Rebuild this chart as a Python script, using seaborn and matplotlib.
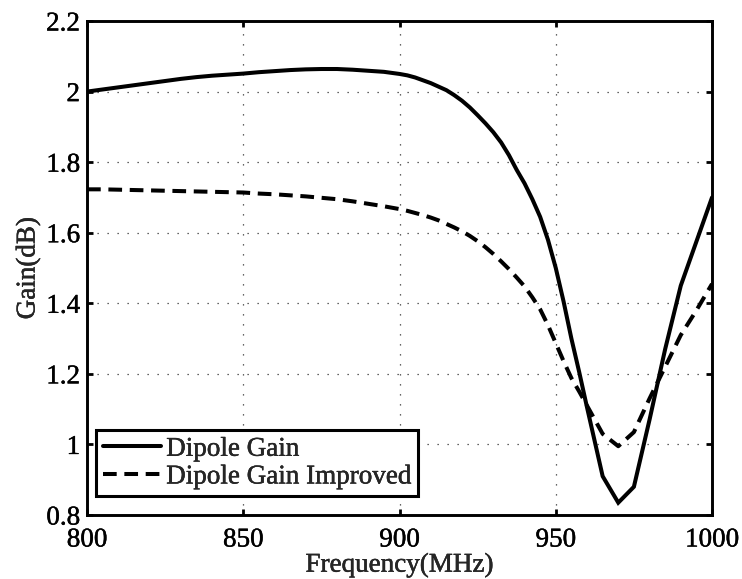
import numpy as np
import pandas as pd
import matplotlib
matplotlib.use("Agg")
import matplotlib.pyplot as plt
import matplotlib.patheffects as pe
from matplotlib.lines import Line2D
import seaborn as sns

# Frequency sweep (MHz), finer steps across the roll-off
freq_mhz = [800, 805, 810, 815, 820, 825, 830, 835, 840, 845,
            850, 855, 860, 865, 870, 875, 880, 885, 890, 895,
            900, 902.5, 905, 907.5, 910, 912.5, 915, 917.5, 920, 922.5,
            925, 927.5, 930, 932.5, 935, 937.5, 940, 942.5, 945, 947.5,
            950, 952.5, 955, 957.5, 960,
            965, 970, 975, 980, 985, 990, 995, 1000]

# Gain of the plain dipole (dB)
dipole_gain = [2.000, 2.006, 2.012, 2.018, 2.024, 2.030, 2.036, 2.041, 2.045, 2.048,
               2.051, 2.055, 2.058, 2.061, 2.063, 2.064, 2.064, 2.062, 2.059, 2.056,
               2.050, 2.046, 2.040, 2.032, 2.024, 2.014, 2.004, 1.990, 1.974, 1.955,
               1.933, 1.910, 1.885, 1.856, 1.820, 1.778, 1.740, 1.695, 1.645, 1.580,
               1.500, 1.405, 1.300, 1.205, 1.105,
               0.910, 0.835, 0.880, 1.070, 1.270, 1.450, 1.575, 1.700]

# Gain of the improved dipole (dB)
improved_gain = [1.723, 1.723, 1.722, 1.721, 1.720, 1.719, 1.718, 1.717, 1.716, 1.715,
                 1.714, 1.711, 1.709, 1.706, 1.703, 1.699, 1.695, 1.689, 1.682, 1.675,
                 1.667, 1.662, 1.656, 1.650, 1.643, 1.635, 1.625, 1.615, 1.604, 1.591,
                 1.576, 1.559, 1.540, 1.519, 1.497, 1.473, 1.448, 1.417, 1.383, 1.338,
                 1.287, 1.236, 1.188, 1.150, 1.110,
                 1.030, 0.995, 1.035, 1.130, 1.220, 1.310, 1.380, 1.455]

series_names = ["Dipole Gain", "Dipole Gain Improved"]
x_ticks = [800, 850, 900, 950, 1000]
y_ticks = [0.8, 1.0, 1.2, 1.4, 1.6, 1.8, 2.0, 2.2]

df = pd.DataFrame({
    "freq": freq_mhz * 2,
    "gain": dipole_gain + improved_gain,
    "series": [series_names[0]] * len(freq_mhz) + [series_names[1]] * len(freq_mhz),
})

sns.set_theme(style="white")
plt.rcParams["font.family"] = ["Liberation Serif", "DejaVu Serif"]

FS = 19.5
heavy = [pe.withStroke(linewidth=0.3, foreground="black")]

fig = plt.figure(figsize=(7.42, 5.79), dpi=100)
ax = fig.add_axes([0.1173, 0.1105, 0.8423, 0.8532])

lw = 2.9
dash = (3.4, 1.9)
sns.lineplot(data=df, x="freq", y="gain", hue="series", style="series",
             palette=["black", "black"],
             dashes={series_names[0]: "", series_names[1]: dash},
             linewidth=lw, ax=ax, legend=False, sort=False)
for line in ax.lines:
    line.set_solid_joinstyle("miter")
    line.set_dash_capstyle("butt")

ax.set_xlim(800, 1000)
ax.set_ylim(0.8, 2.2)
ax.set_xticks(x_ticks)
ax.set_yticks(y_ticks)
ax.set_xticklabels([f"{v:g}" for v in x_ticks])
ax.set_yticklabels([f"{v:g}" for v in y_ticks])

ax.grid(True, color="black", linestyle=(0, (1, 7)), linewidth=0.9, alpha=0.8)
ax.set_axisbelow(True)

for s in ax.spines.values():
    s.set_visible(True)
    s.set_color("black")
    s.set_linewidth(2.1)

ax.tick_params(axis="both", which="both", direction="in", length=4, width=2,
               top=True, right=True, bottom=True, left=True,
               labelsize=FS, colors="black")
ax.tick_params(axis="x", pad=9)
ax.tick_params(axis="y", pad=5)
for lab in ax.get_xticklabels() + ax.get_yticklabels():
    lab.set_path_effects(heavy)

ax.set_xlabel("Frequency(MHz)", fontsize=FS, labelpad=0, path_effects=heavy)
ax.set_ylabel("Gain(dB)", fontsize=FS, labelpad=4, path_effects=heavy)

handles = [Line2D([], [], color="black", linewidth=lw),
           Line2D([], [], color="black", linewidth=lw, linestyle=(0, dash))]
leg = ax.legend(handles, series_names, loc="lower left", bbox_to_anchor=(0.014, 0.038),
                fontsize=FS, frameon=True, fancybox=False, handlelength=2.15,
                handletextpad=0.2, borderpad=0.25, labelspacing=0.1,
                borderaxespad=0)
for t in leg.get_texts():
    t.set_path_effects(heavy)
leg.get_frame().set_edgecolor("black")
leg.get_frame().set_linewidth(2.2)
leg.get_frame().set_facecolor("white")
leg.get_frame().set_alpha(1)

fig.savefig("out.png", dpi=100, facecolor="white")
